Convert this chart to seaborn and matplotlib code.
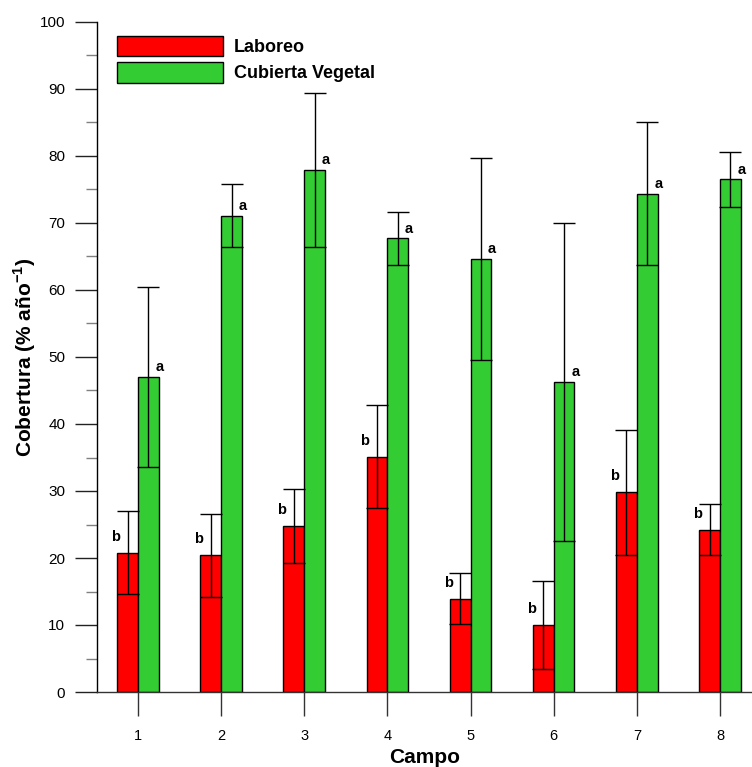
import matplotlib
matplotlib.use("Agg")
import matplotlib.pyplot as plt
from matplotlib.patches import Patch
from matplotlib.ticker import MultipleLocator
import numpy as np
import pandas as pd
import seaborn as sns

# Cover per field (% per year) with standard error and significance letters
campos = ["1", "2", "3", "4", "5", "6", "7", "8"]
laboreo = [20.8, 20.4, 24.8, 35.1, 13.9, 10.0, 29.8, 24.2]
laboreo_err = [6.2, 6.2, 5.5, 7.7, 3.8, 6.5, 9.3, 3.8]
cubierta = [47.0, 71.1, 77.9, 67.7, 64.6, 46.3, 74.4, 76.5]
cubierta_err = [13.4, 4.7, 11.5, 3.9, 15.1, 23.7, 10.7, 4.1]
letras_laboreo = ["b"] * 8
letras_cubierta = ["a"] * 8
tratamientos = ["Laboreo", "Cubierta Vegetal"]
colores = ["#FF0000", "#33CC33"]

df = pd.DataFrame({
    "Campo": campos * 2,
    "Cobertura": laboreo + cubierta,
    "Tratamiento": [tratamientos[0]] * 8 + [tratamientos[1]] * 8,
})

sns.set_style("ticks")
plt.rcParams["font.family"] = ["Liberation Sans", "DejaVu Sans"]
plt.rcParams["mathtext.fontset"] = "custom"
plt.rcParams["mathtext.rm"] = "Liberation Sans:bold"
plt.rcParams["mathtext.bf"] = "Liberation Sans:bold"
for key in ["text.color", "axes.labelcolor", "xtick.labelcolor", "ytick.labelcolor"]:
    plt.rcParams[key] = "black"

fig = plt.figure(figsize=(7.52, 7.67), dpi=100)
ax = fig.add_axes([97 / 752, 75 / 767, 655 / 752, 670 / 767])

sns.barplot(
    data=df, x="Campo", y="Cobertura", hue="Tratamiento",
    order=campos, hue_order=tratamientos, palette=colores, saturation=1,
    width=0.5, gap=0, edgecolor="black", linewidth=1,
    errorbar=None, legend=False, ax=ax,
)

series = [(laboreo, laboreo_err, letras_laboreo), (cubierta, cubierta_err, letras_cubierta)]
for k, (container, (vals, errs, letras)) in enumerate(zip(ax.containers, series)):
    xs = [p.get_x() + p.get_width() / 2 for p in container.patches]
    ax.errorbar(xs, vals, yerr=errs, fmt="none", ecolor="black",
                elinewidth=1, capsize=7.9, capthick=1, zorder=3)
    for p, v, letra in zip(container.patches, vals, letras):
        if k == 0:
            xy = (p.get_x(), v)
            off = (-1.2, 6.5)
        else:
            xy = (p.get_x() + p.get_width(), v)
            off = (0.6, 2.0)
        ax.annotate(letra, xy=xy, xytext=off, textcoords="offset points",
                    ha="center", va="bottom", fontsize=10.5,
                    fontweight="bold", color="black")

ax.set_xlim(-0.493, 7.385)
ax.set_ylim(0, 100)
ax.yaxis.set_major_locator(MultipleLocator(10))
ax.yaxis.set_minor_locator(MultipleLocator(5))

sns.despine(ax=ax, top=True, right=True)
ax.spines["left"].set_color("black")
ax.spines["left"].set_linewidth(1)
ax.spines["bottom"].set_color("#333333")
ax.spines["bottom"].set_linewidth(1)

ax.tick_params(axis="y", which="major", length=15.8, width=1, color="#222222",
               pad=7, labelsize=11)
ax.tick_params(axis="y", which="minor", length=8, width=1, color="#808080")
ax.tick_params(axis="x", which="major", length=17, width=1, color="#333333",
               pad=10, labelsize=10.5)

ax.set_xlabel("Campo", fontsize=15, fontweight="bold", labelpad=3)
ax.set_ylabel("Cobertura (% año$^{-1}$)", fontsize=15, fontweight="bold", labelpad=1.5)

handles = [Patch(facecolor=c, edgecolor="black", linewidth=1) for c in colores]
ax.legend(handles, tratamientos, loc="upper left", bbox_to_anchor=(0.0305, 0.979),
          frameon=False, borderpad=0, borderaxespad=0,
          handlelength=5.86, handleheight=1.35, handletextpad=0.6,
          labelspacing=0.33, prop={"weight": "bold", "size": 13})

fig.savefig("out.png", dpi=100)
